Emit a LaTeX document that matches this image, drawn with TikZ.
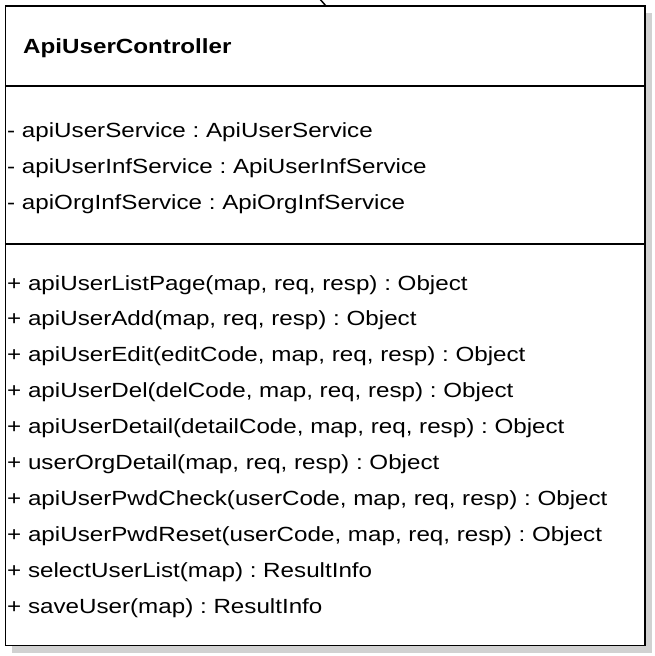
\documentclass[tikz,border=0pt]{standalone}
\usepackage{fontspec}
\setmainfont{Liberation Sans}
\newfontfamily\umlfont[FakeStretch=1.18]{Liberation Sans}
\frenchspacing
\usetikzlibrary{positioning}
\tikzset{
  member/.style={anchor=base west, inner sep=0pt, font=\umlfont\fontsize{20.5}{24}\selectfont},
  classbox/.style={draw, line width=1.5pt, fill=white, minimum width=639.5pt, minimum height=639.5pt, inner sep=0pt},
  shade/.style={fill=black!18, draw=none}
}

\begin{document}
\begin{tikzpicture}[x=1pt, y=-1pt]
\useasboundingbox (0,0) rectangle (654,656);
\fill[shade] (12,13) rectangle (652,653);
\node[classbox] (cls) at (325.25,325.75) {};
\draw[line width=1.5pt] (cls.west |- 0,86) -- (cls.east |- 0,86);
\draw[line width=1.5pt] (cls.west |- 0,244) -- (cls.east |- 0,244);
% incoming connector
\coordinate (from) at (319,-2);
\coordinate (to) at (326,6);
\draw[line width=1.5pt] (from) -- (to);
\node[member, font=\umlfont\fontsize{20.5}{24}\selectfont\bfseries] (title) at (23,53) {ApiUserController};
\foreach \i/\t in {1/apiUserService : ApiUserService,
                   2/apiUserInfService : ApiUserInfService,
                   3/apiOrgInfService : ApiOrgInfService}
  \node[member] (attr\i) at (7,137+36*\i-36) {- \t};
\foreach \i/\t in {1/apiUserListPage(map{,} req{,} resp) : Object,
                   2/apiUserAdd(map{,} req{,} resp) : Object,
                   3/apiUserEdit(editCode{,} map{,} req{,} resp) : Object,
                   4/apiUserDel(delCode{,} map{,} req{,} resp) : Object,
                   5/apiUserDetail(detailCode{,} map{,} req{,} resp) : Object,
                   6/userOrgDetail(map{,} req{,} resp) : Object,
                   7/apiUserPwdCheck(userCode{,} map{,} req{,} resp) : Object,
                   8/apiUserPwdReset(userCode{,} map{,} req{,} resp) : Object,
                   9/selectUserList(map) : ResultInfo,
                   10/saveUser(map) : ResultInfo}
  \node[member] (op\i) at (7,290+35.9*\i-35.9) {+ \t};
\end{tikzpicture}
\end{document}
